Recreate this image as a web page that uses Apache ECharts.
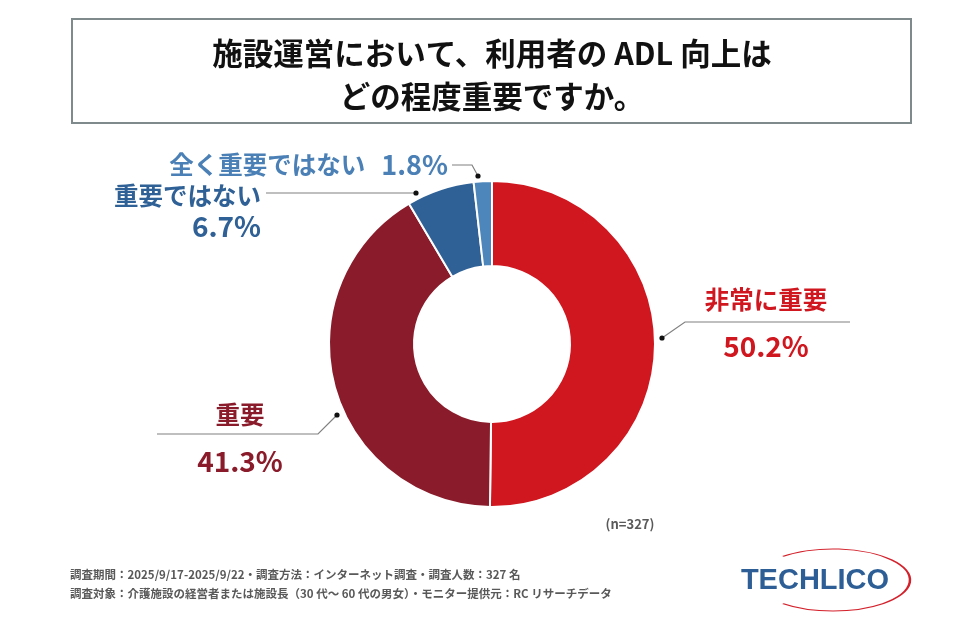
<!DOCTYPE html>
<html><head><meta charset="utf-8">
<script src="https://cdn.jsdelivr.net/npm/echarts@6/dist/echarts.min.js"></script>
<style>html,body{margin:0;padding:0;background:#fff}#c{width:955px;height:630px}</style>
</head><body><div id="c"></div>
<script>
const categories = ['非常に重要', '重要', '重要ではない', '全く重要ではない'];
const values = [50.2, 41.3, 6.7, 1.8];
const colors = ['#d0161e', '#8a1b2a', '#2f6196', '#4d86bb'];
const textColors = ['#d0161e', '#8a1b2a', '#2f6196', '#4a80b6'];
const titleLines = ['施設運営において、利用者の ADL 向上は', 'どの程度重要ですか。'];
const sampleNote = '(n=327)';
const footerLines = [
  '調査期間：2025/9/17-2025/9/22・調査方法：インターネット調査・調査人数：327 名',
  '調査対象：介護施設の経営者または施設長（30 代～ 60 代の男女）・モニター提供元：RC リサーチデータ'
];
const FONT = '"Noto Sans CJK JP", "Noto Sans", sans-serif';

// annotation layout (label anchor + leader line points; first point is the dot on the ring)
const labelSpots = [
  {x: 766, y: 323, align: 'center', line: [[662, 338], [685, 322], [850, 322]]},
  {x: 240, y: 438, align: 'center', line: [[337, 415], [318, 434], [157, 434]]},
  {x: 261, y: 211, align: 'right', line: [[416, 193], [416, 193], [266, 193]]},
  {x: 448, y: 165, align: 'right', line: [[478, 176], [472, 165], [452, 165]]}
];

const chart = echarts.init(document.getElementById('c'), null, {renderer: 'canvas'});

const data = categories.map((n, i) => ({
  name: n, value: values[i],
  itemStyle: {color: colors[i]},
  label: {color: textColors[i]}
}));

const arcAng = Math.atan2(-24 / 31, -51 / 77);
const graphics = [
  {type: 'rect', shape: {x: 72, y: 19, width: 839, height: 104},
   style: {fill: '#fff', stroke: '#7f8a8c', lineWidth: 2}},
  {type: 'text', x: 492, y: 53, style: {text: titleLines[0], font: 'bold 30.5px ' + FONT, fill: '#111', textAlign: 'center', textVerticalAlign: 'middle'}},
  {type: 'text', x: 492, y: 96, style: {text: titleLines[1], font: 'bold 30.5px ' + FONT, fill: '#111', textAlign: 'center', textVerticalAlign: 'middle'}},
  {type: 'text', x: 630, y: 524, style: {text: sampleNote, font: 'bold 13px ' + FONT, fill: '#595959', textAlign: 'center', textVerticalAlign: 'middle'}},
  {type: 'text', x: 70, y: 575, style: {text: footerLines[0], font: 'bold 11.5px ' + FONT, fill: '#595959', textAlign: 'left', textVerticalAlign: 'middle'}},
  {type: 'text', x: 70, y: 594, style: {text: footerLines[1], font: 'bold 11.5px ' + FONT, fill: '#595959', textAlign: 'left', textVerticalAlign: 'middle'}},
  {type: 'group', x: 833, y: 580, scaleY: 31 / 77, children: [
    {type: 'arc', shape: {cx: 0, cy: 0, r: 77, startAngle: arcAng, endAngle: -arcAng, clockwise: true},
     style: {fill: 'none', stroke: '#d3202a', lineWidth: 2.5, strokeNoScale: true}}
  ]},
  {type: 'text', x: 815, y: 581, style: {text: 'TECHLICO', font: 'bold 29px "Liberation Sans", Arial, sans-serif', fill: '#2d5f96', textAlign: 'center', textVerticalAlign: 'middle'}}
];
labelSpots.forEach(s => {
  graphics.push({type: 'circle', shape: {cx: s.line[0][0], cy: s.line[0][1], r: 2.6}, style: {fill: '#111'}, z: 10});
});

chart.setOption({
  animation: false,
  backgroundColor: '#fff',
  graphic: graphics,
  series: [{
    type: 'pie',
    center: [492, 344],
    radius: [78, 163],
    startAngle: 90,
    clockwise: true,
    data: data,
    itemStyle: {borderColor: '#fff', borderWidth: 2},
    label: {
      show: true,
      position: 'outside',
      fontFamily: FONT,
      fontWeight: 'bold',
      formatter: p => {
        const i = p.dataIndex;
        if (i === 3) return '{n|' + p.name + '}{v3|' + values[i].toFixed(1) + '%}';
        if (i === 2) return '{n2|' + p.name + '}\n{v2|' + values[i].toFixed(1) + '%}';
        return '{n|' + p.name + '}\n{v|' + values[i].toFixed(1) + '%}';
      },
      rich: {
        n: {fontSize: 24.5, fontWeight: 'bold', fontFamily: FONT, lineHeight: 46},
        v: {fontSize: 28, fontWeight: 'bold', fontFamily: FONT, lineHeight: 46},
        v3: {fontSize: 27, fontWeight: 'bold', fontFamily: FONT, lineHeight: 34, padding: [0, 0, 0, 16]},
        n2: {fontSize: 24.5, fontWeight: 'bold', fontFamily: FONT, lineHeight: 31},
        v2: {fontSize: 28, fontWeight: 'bold', fontFamily: FONT, lineHeight: 31}
      }
    },
    labelLine: {show: true, lineStyle: {color: '#808080', width: 1.2}},
    labelLayout: params => {
      const s = labelSpots[params.dataIndex];
      return {x: s.x, y: s.y, align: s.align, verticalAlign: 'middle', labelLinePoints: s.line};
    }
  }]
});
</script></body></html>
